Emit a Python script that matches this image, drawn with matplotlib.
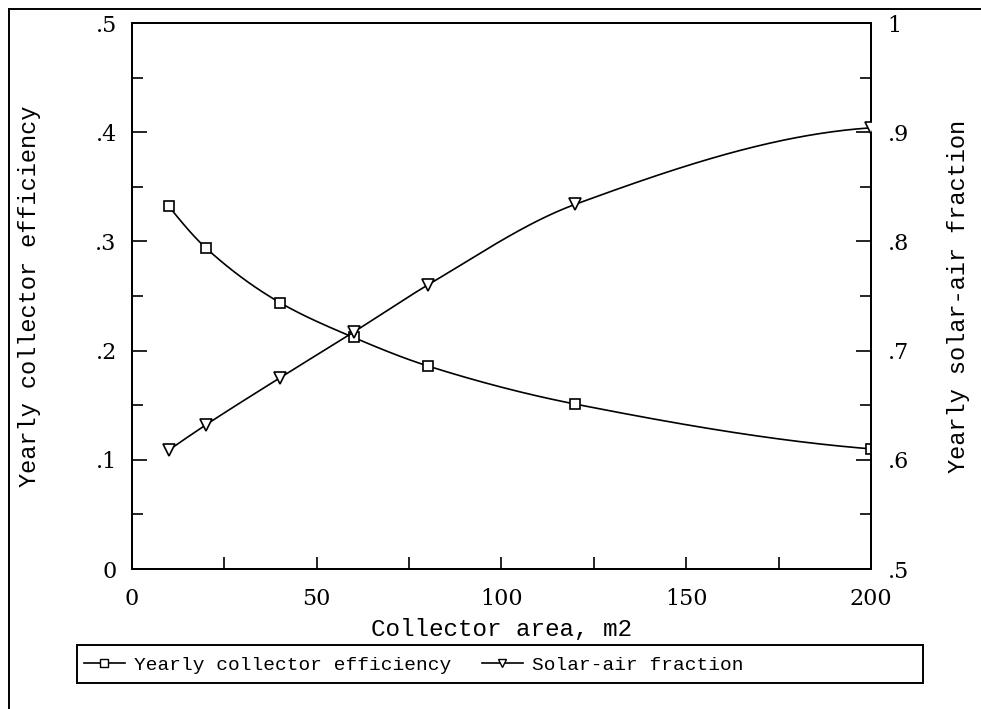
import numpy as np
import matplotlib
matplotlib.use("Agg")
import matplotlib.pyplot as plt
from matplotlib.lines import Line2D
from matplotlib.patches import Rectangle
from matplotlib.ticker import MultipleLocator, FixedLocator, FixedFormatter

# ---- data ----
area = [10, 20, 40, 60, 80, 120, 200]
efficiency = [0.332, 0.294, 0.244, 0.212, 0.186, 0.151, 0.110]
solar_fraction = [0.609, 0.632, 0.675, 0.717, 0.760, 0.834, 0.904]

x_ticks = [0, 50, 100, 150, 200]
left_ticks = [0, 0.1, 0.2, 0.3, 0.4, 0.5]
left_labels = ["0", ".1", ".2", ".3", ".4", ".5"]
right_ticks = [0.5, 0.6, 0.7, 0.8, 0.9, 1.0]
right_labels = [".5", ".6", ".7", ".8", ".9", "1"]

xlabel = "Collector area, m2"
ylabel_left = "Yearly collector efficiency"
ylabel_right = "Yearly solar-air fraction"
legend_labels = ["Yearly collector efficiency", "Solar-air fraction"]


def pchip(x, y, xs):
    x = np.asarray(x, float)
    y = np.asarray(y, float)
    h = np.diff(x)
    d = np.diff(y) / h
    n = len(x)
    m = np.zeros(n)
    for k in range(1, n - 1):
        if d[k - 1] * d[k] <= 0:
            m[k] = 0
        else:
            w1 = 2 * h[k] + h[k - 1]
            w2 = h[k] + 2 * h[k - 1]
            m[k] = (w1 + w2) / (w1 / d[k - 1] + w2 / d[k])
    m[0] = ((2 * h[0] + h[1]) * d[0] - h[0] * d[1]) / (h[0] + h[1])
    if np.sign(m[0]) != np.sign(d[0]):
        m[0] = 0
    m[-1] = ((2 * h[-1] + h[-2]) * d[-1] - h[-1] * d[-2]) / (h[-1] + h[-2])
    if np.sign(m[-1]) != np.sign(d[-1]):
        m[-1] = 0
    out = np.empty_like(xs, dtype=float)
    idx = np.clip(np.searchsorted(x, xs) - 1, 0, n - 2)
    for j, (xv, i) in enumerate(zip(xs, idx)):
        t = (xv - x[i]) / h[i]
        h00 = 2 * t**3 - 3 * t**2 + 1
        h10 = t**3 - 2 * t**2 + t
        h01 = -2 * t**3 + 3 * t**2
        h11 = t**3 - t**2
        out[j] = h00 * y[i] + h10 * h[i] * m[i] + h01 * y[i + 1] + h11 * h[i] * m[i + 1]
    return out


W, H = 981, 709
fig = plt.figure(figsize=(W / 100, H / 100), dpi=100)
ax = fig.add_axes([132 / W, 1 - 569 / H, (871 - 132) / W, (569 - 23) / H])
ax2 = ax.twinx()

tick_font = dict(family="DejaVu Serif", size=16)
mono = "Liberation Mono"

xs = np.linspace(min(area), max(area), 400)
ax.plot(xs, pchip(area, efficiency, xs), color="black", lw=1.2, zorder=3)
ax.plot(area, efficiency, linestyle="none", marker="s", ms=7.5, mfc="white",
        mec="black", mew=1.2, zorder=4)
ax2.plot(xs, pchip(area, solar_fraction, xs), color="black", lw=1.2, zorder=3)
ax2.plot(area, solar_fraction, linestyle="none", marker="v", ms=8, mfc="white",
         mec="black", mew=1.2, zorder=4)

ax.set_xlim(0, 200)
ax.set_ylim(0, 0.5)
ax2.set_ylim(0.5, 1.0)

ax.xaxis.set_major_locator(FixedLocator(x_ticks))
ax.xaxis.set_minor_locator(MultipleLocator(25))
ax.yaxis.set_major_locator(FixedLocator(left_ticks))
ax.yaxis.set_major_formatter(FixedFormatter(left_labels))
ax.yaxis.set_minor_locator(MultipleLocator(0.05))
ax2.yaxis.set_major_locator(FixedLocator(right_ticks))
ax2.yaxis.set_major_formatter(FixedFormatter(right_labels))
ax2.yaxis.set_minor_locator(MultipleLocator(0.05))

for a in (ax, ax2):
    for s in a.spines.values():
        s.set_linewidth(1.4)
ax.tick_params(axis="x", which="both", direction="in", top=False, bottom=True,
               length=9, width=1.2, pad=14)
ax.tick_params(axis="y", which="major", direction="in", left=True, right=False,
               length=11, width=1.2, pad=11)
ax.tick_params(axis="y", which="minor", direction="in", left=True, right=False,
               length=8, width=1.2)
ax2.tick_params(axis="y", which="major", direction="in", right=True, left=False,
                length=11, width=1.2, pad=12)
ax2.tick_params(axis="y", which="minor", direction="in", right=True, left=False,
                length=8, width=1.2)
for lab in ax.get_xticklabels() + ax.get_yticklabels() + ax2.get_yticklabels():
    lab.set_fontfamily("DejaVu Serif")
    lab.set_fontsize(16)

ax.set_xlabel(xlabel, family=mono, fontsize=17.5, va="center")
ax.xaxis.set_label_coords(0.5, (569 - 630) / (569 - 23))
ax.set_ylabel(ylabel_left, family=mono, fontsize=17, va="center")
ax.yaxis.set_label_coords((30 - 132) / (871 - 132), 0.5)
ax2.set_ylabel(ylabel_right, family=mono, fontsize=17, va="center", rotation=90)
ax2.yaxis.set_label_coords((958 - 132) / (871 - 132), 0.5)

# legend box
fig.patches.append(Rectangle((77 / W, 1 - 683 / H), (923 - 77) / W, (683 - 645) / H,
                             transform=fig.transFigure, fill=False, lw=1.4,
                             edgecolor="black"))
handles = [
    Line2D([], [], color="black", lw=1.2, marker="s", ms=6, mfc="white", mec="black"),
    Line2D([], [], color="black", lw=1.2, marker="v", ms=6, mfc="white", mec="black"),
]
fig.legend(handles, legend_labels, loc="center left",
           bbox_to_anchor=(84 / W, 1 - 665 / H), ncol=2, frameon=False,
           prop=dict(family=mono, size=14), handlelength=2.1, handletextpad=0.45,
           columnspacing=1.6, borderpad=0, borderaxespad=0)

# figure border (left and top)
fig.add_artist(Line2D([9 / W, 9 / W], [0, 1 - 9 / H], transform=fig.transFigure,
                      color="black", lw=1.4))
fig.add_artist(Line2D([9 / W, 1], [1 - 9 / H, 1 - 9 / H], transform=fig.transFigure,
                      color="black", lw=1.4))

fig.savefig("out.png", dpi=100)
